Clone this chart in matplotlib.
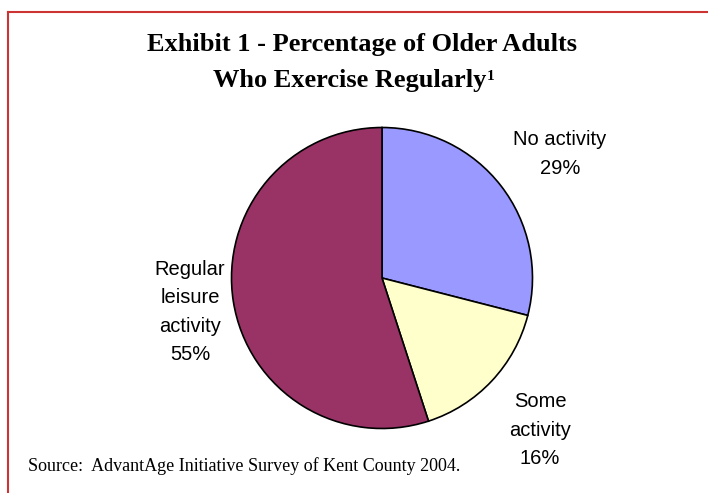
import matplotlib.pyplot as plt
from matplotlib.lines import Line2D

# data
categories = ['No activity', 'Some activity', 'Regular leisure activity']
label_text = ['No activity', 'Some\nactivity', 'Regular\nleisure\nactivity']
shares = [29, 16, 55]
colors = ['#9999FF', '#FFFFCC', '#993366']

W, H = 708, 493
fig = plt.figure(figsize=(W / 100, H / 100), dpi=100)
fig.patch.set_facecolor('white')

# red frame (top + left)
red = '#CC3333'
fig.add_artist(Line2D([8 / W, 1], [1 - 12 / H, 1 - 12 / H], color=red, lw=1.5, transform=fig.transFigure))
fig.add_artist(Line2D([8 / W, 8 / W], [0, 1 - 12 / H], color=red, lw=1.5, transform=fig.transFigure))

# pie
cx, cy, r = 382, 278, 152
ax = fig.add_axes([(cx - r) / W, (H - cy - r) / H, 2 * r / W, 2 * r / H])
ax.pie(shares, colors=colors, startangle=90, counterclock=False,
       wedgeprops=dict(edgecolor='black', linewidth=1.2))
ax.set_xlim(-1.01, 1.01)
ax.set_ylim(-1.01, 1.01)
ax.set_aspect('auto')
ax.axis('off')

# labels
label_pos = [(560, 154), (540, 430), (190, 312)]
for txt, val, (px, py) in zip(label_text, shares, label_pos):
    fig.text(px / W, 1 - py / H, f'{txt}\n{val}%', ha='center', va='center',
             fontsize=14.5, family='Liberation Sans', linespacing=1.62)

# title
fig.text(362 / W, 1 - 45 / H, 'Exhibit 1 - Percentage of Older Adults',
         ha='center', va='center', fontsize=19, fontweight='bold', family='Liberation Serif')
t2 = fig.text(213 / W, 1 - 80 / H, 'Who Exercise Regularly',
              ha='left', va='center', fontsize=19, fontweight='bold', family='Liberation Serif')
fig.canvas.draw()
bb = t2.get_window_extent()
fig.text((bb.x1 + 0.5) / W, 1 - 76 / H, '1', ha='left', va='center', fontsize=11,
         fontweight='bold', family='Liberation Serif')

# source
fig.text(28 / W, 1 - 466 / H, 'Source:  AdvantAge Initiative Survey of Kent County 2004.',
         ha='left', va='center', fontsize=13, family='Liberation Serif')

fig.savefig('out.png', dpi=100)
